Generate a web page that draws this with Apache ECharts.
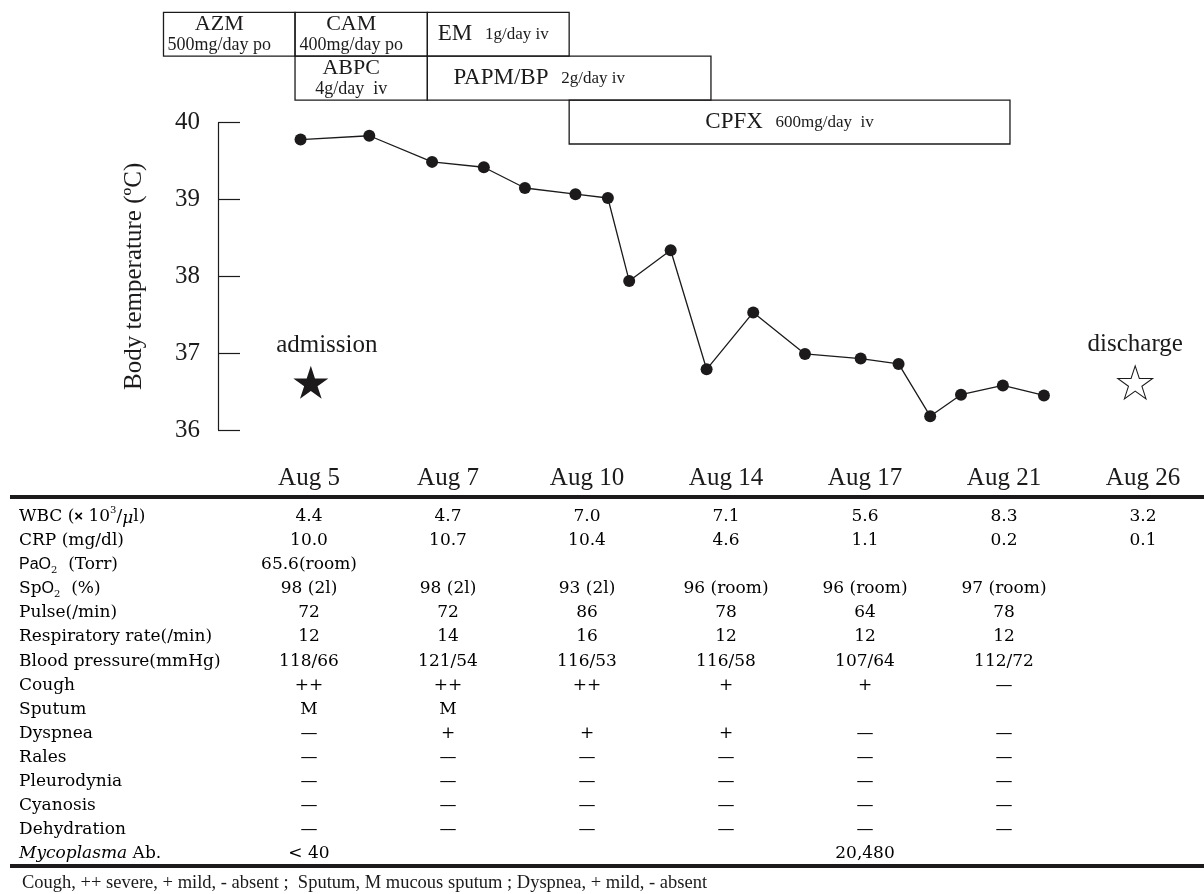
<!DOCTYPE html>
<html>
<head>
<meta charset="utf-8">
<script src="https://cdn.jsdelivr.net/npm/echarts@6/dist/echarts.min.js"></script>
<style>
html,body{margin:0;padding:0;background:#fff;}
#chart{width:1204px;height:894px;}
</style>
</head>
<body>
<div id="chart"></div>
<script>
// ---------- DATA ----------
// body temperature measurements (x = day of August, y = °C)
const tempDay = [4.79, 6.53, 8.12, 9.43, 10.47, 11.75, 12.57, 13.11, 14.16, 15.07, 16.25, 17.56, 18.97, 19.93, 20.73, 21.51, 22.57, 23.61];
const tempValue = [39.78, 39.83, 39.49, 39.42, 39.15, 39.07, 39.02, 37.94, 38.34, 36.79, 37.53, 36.99, 36.93, 36.86, 36.18, 36.46, 36.58, 36.45];
const admission = [5.05, 36.62];
const discharge = [25.92, 36.62];
const yTicks = [36, 37, 38, 39, 40];

// treatments (start/end day of August, row)
const drugNames = ['AZM', 'CAM', 'EM', 'ABPC', 'PAPM/BP', 'CPFX'];
const drugDoses = ['500mg/day po', '400mg/day po', '1g/day iv', '4g/day  iv', '2g/day iv', '600mg/day  iv'];
const drugStart = [1.32, 4.65, 8.0, 4.65, 8.0, 11.59];
const drugEnd = [4.65, 8.0, 11.59, 8.0, 15.18, 22.75];
const drugRow = [0, 0, 0, 1, 1, 2];

// table
const dates = ['Aug 5', 'Aug 7', 'Aug 10', 'Aug 14', 'Aug 17', 'Aug 21', 'Aug 26'];
const rowLabels = ['WBC (×10³/μl)', 'CRP (mg/dl)', 'PaO2 (Torr)', 'SpO2 (%)', 'Pulse(/min)', 'Respiratory rate(/min)', 'Blood pressure(mmHg)', 'Cough', 'Sputum', 'Dyspnea', 'Rales', 'Pleurodynia', 'Cyanosis', 'Dehydration', 'Mycoplasma Ab.'];
const wbc = ['4.4', '4.7', '7.0', '7.1', '5.6', '8.3', '3.2'];
const crp = ['10.0', '10.7', '10.4', '4.6', '1.1', '0.2', '0.1'];
const pao2 = ['65.6(room)', '', '', '', '', '', ''];
const spo2 = ['98 (2l)', '98 (2l)', '93 (2l)', '96 (room)', '96 (room)', '97 (room)', ''];
const pulse = ['72', '72', '86', '78', '64', '78', ''];
const resp = ['12', '14', '16', '12', '12', '12', ''];
const bp = ['118/66', '121/54', '116/53', '116/58', '107/64', '112/72', ''];
const cough = ['++', '++', '++', '+', '+', '—', ''];
const sputum = ['M', 'M', '', '', '', '', ''];
const dyspnea = ['—', '+', '+', '+', '—', '—', ''];
const rales = ['—', '—', '—', '—', '—', '—', ''];
const pleurodynia = ['—', '—', '—', '—', '—', '—', ''];
const cyanosis = ['—', '—', '—', '—', '—', '—', ''];
const dehydration = ['—', '—', '—', '—', '—', '—', ''];
const mycoplasma = ['< 40', '', '', '', '20,480', '', ''];
const footnote = 'Cough, ++ severe, + mild, - absent ;  Sputum, M mucous sputum ; Dyspnea, + mild, - absent';

// ---------- BUILD ----------
const INK = '#1c1a1b';
const SERIF = 'Liberation Serif';
const TSERIF = 'DejaVu Serif';
const STAR = 'path://M50,0L61.23,34.55L97.55,34.55L68.16,55.9L79.39,90.45L50,69.1L20.61,90.45L31.84,55.9L2.45,34.55L38.77,34.55Z';
const tableRows = [wbc, crp, pao2, spo2, pulse, resp, bp, cough, sputum, dyspnea, rales, pleurodynia, cyanosis, dehydration, mycoplasma];
const tableData = [];
tableRows.forEach(function (row, r) {
  row.forEach(function (v, c) { if (v !== '') tableData.push({ value: [c, r], txt: v }); });
});
const richLabels = [
  '{a|WBC (}{x|×}{a| 10}{sup|3}{a|/}{mu|μ}{a|l)}',
  '{a|CRP (mg/dl)}',
  '{s|PaO}{sub|2}{a|  (Torr)}',
  '{a|Sp}{s|O}{sub|2}{a|  (%)}',
  '{a|Pulse(/min)}',
  '{a|Respiratory rate(/min)}',
  '{a|Blood pressure(mmHg)}',
  '{a|Cough}', '{a|Sputum}', '{a|Dyspnea}', '{a|Rales}', '{a|Pleurodynia}',
  '{a|Cyanosis}', '{a|Dehydration}',
  '{it|Mycoplasma}{a| Ab.}'
];
const drugData = drugNames.map(function (n, i) {
  return [drugStart[i], drugEnd[i], drugRow[i], n, drugDoses[i]];
});

const chart = echarts.init(document.getElementById('chart'), null, { renderer: 'canvas' });
const option = {
  animation: false,
  backgroundColor: '#fff',
  textStyle: { fontFamily: SERIF, color: INK },
  grid: [
    { left: 218, right: 26.15, top: 122.7, bottom: 464 },
    { left: 111.35, right: 26.15, top: 12.3, bottom: 750 },
    { left: 309, right: 61, top: 504.5, bottom: 28 }
  ],
  xAxis: [
    { gridIndex: 0, type: 'value', min: 2.7, max: 27, show: false },
    { gridIndex: 1, type: 'value', min: 0, max: 27, show: false },
    {
      gridIndex: 2, type: 'value', min: 0, max: 6, interval: 1, position: 'top',
      axisLine: { show: false }, axisTick: { show: false }, splitLine: { show: false },
      axisLabel: {
        margin: 14, fontFamily: SERIF, fontSize: 25, color: INK,
        formatter: function (v) { return dates[v] || ''; }
      }
    }
  ],
  yAxis: [
    {
      gridIndex: 0, type: 'value', min: yTicks[0], max: yTicks[yTicks.length - 1], interval: 1,
      name: 'Body temperature (ºC)', nameLocation: 'middle', nameGap: 71,
      nameTextStyle: { fontFamily: SERIF, fontSize: 25, color: INK },
      axisLine: { show: true, lineStyle: { color: INK, width: 1.2 } },
      axisTick: { show: true, inside: true, length: 22, lineStyle: { color: INK, width: 1.2 } },
      axisLabel: { margin: 18, fontFamily: SERIF, fontSize: 25, color: INK },
      splitLine: { show: false }
    },
    { gridIndex: 1, type: 'category', data: ['r0', 'r1', 'r2'], inverse: true, show: false },
    {
      gridIndex: 2, type: 'category', data: rowLabels, inverse: true,
      axisLine: { show: false }, axisTick: { show: false },
      axisLabel: {
        align: 'left', margin: 290, interval: 0,
        formatter: function (v, i) { return richLabels[i]; },
        rich: {
          a: { fontFamily: TSERIF, fontSize: 17, color: '#000', lineHeight: 22 },
          x: { fontFamily: 'Liberation Sans', fontSize: 15, fontWeight: 'bold', color: '#000', lineHeight: 22 },
          sup: { fontFamily: TSERIF, fontSize: 10, color: '#000', lineHeight: 12, verticalAlign: 'top' },
          mu: { fontFamily: TSERIF, fontSize: 17, fontStyle: 'italic', color: '#000', lineHeight: 18, verticalAlign: 'bottom' },
          s: { fontFamily: 'Liberation Sans', fontSize: 16, color: '#000', lineHeight: 22 },
          sub: { fontFamily: TSERIF, fontSize: 10, color: '#000', lineHeight: 10, verticalAlign: 'bottom' },
          it: { fontFamily: TSERIF, fontSize: 17, fontStyle: 'italic', color: '#000', lineHeight: 22 }
        }
      }
    }
  ],
  series: [
    {
      type: 'line', xAxisIndex: 0, yAxisIndex: 0,
      data: tempDay.map(function (d, i) { return [d, tempValue[i]]; }),
      symbol: 'circle', symbolSize: 12, showSymbol: true,
      lineStyle: { color: INK, width: 1.3 }, itemStyle: { color: INK, opacity: 1 }
    },
    {
      type: 'scatter', xAxisIndex: 0, yAxisIndex: 0, data: [admission],
      symbol: STAR, symbolSize: [35, 33], itemStyle: { color: INK, opacity: 1 },
      label: { show: true, position: 'top', distance: 8, offset: [16, 0], formatter: 'admission', fontFamily: SERIF, fontSize: 25, color: INK }
    },
    {
      type: 'scatter', xAxisIndex: 0, yAxisIndex: 0, data: [discharge],
      symbol: STAR, symbolSize: [35, 33], itemStyle: { color: '#fff', borderColor: INK, borderWidth: 1, opacity: 1 },
      label: { show: true, position: 'top', distance: 8, formatter: 'discharge', fontFamily: SERIF, fontSize: 25, color: INK }
    },
    {
      type: 'custom', xAxisIndex: 1, yAxisIndex: 1, data: drugData, clip: false,
      renderItem: function (params, api) {
        const s = api.coord([api.value(0), api.value(2)]);
        const e = api.coord([api.value(1), api.value(2)]);
        const h = api.size([0, 1])[1];
        const w = e[0] - s[0];
        const name = drugData[params.dataIndex][3];
        const dose = drugData[params.dataIndex][4];
        const children = [{
          type: 'rect',
          shape: { x: s[0], y: s[1] - h / 2, width: w, height: h },
          style: { fill: 'none', stroke: INK, lineWidth: 1.3 }
        }];
        if (w < 137) {
          const cx = s[0] + w / 2 - 10;
          children.push({ type: 'text', style: { x: cx, y: s[1] - 10, text: name, font: '22px "Liberation Serif"', fill: INK, align: 'center', verticalAlign: 'middle' } });
          children.push({ type: 'text', style: { x: cx, y: s[1] + 11, text: dose, font: '18px "Liberation Serif"', fill: INK, align: 'center', verticalAlign: 'middle' } });
        } else {
          const cx = s[0] + w / 2 - (w > 400 ? 0 : (w > 200 ? 30 : 5));
          children.push({
            type: 'text', style: {
              x: cx, y: s[1], text: '{n|' + name + '}{d|   ' + dose + '}', align: 'center', verticalAlign: 'middle',
              rich: { n: { fontFamily: SERIF, fontSize: 23, fill: INK, color: INK }, d: { fontFamily: SERIF, fontSize: 17, fill: INK, color: INK } }
            }
          });
        }
        return { type: 'group', children: children };
      }
    },
    {
      type: 'scatter', xAxisIndex: 2, yAxisIndex: 2, data: tableData,
      symbolSize: 0, itemStyle: { color: '#000', opacity: 1 },
      label: {
        show: true, position: 'inside', fontFamily: TSERIF, fontSize: 17, color: '#000',
        formatter: function (p) { return p.data.txt; }
      }
    }
  ],
  graphic: [
    { type: 'line', shape: { x1: 10, y1: 497, x2: 1204, y2: 497 }, style: { stroke: INK, lineWidth: 4 } },
    { type: 'line', shape: { x1: 10, y1: 866, x2: 1204, y2: 866 }, style: { stroke: INK, lineWidth: 4 } },
    { type: 'text', left: 22, top: 874, style: { text: footnote, font: '18.5px "Liberation Serif"', fill: INK } }
  ]
};
chart.setOption(option);
</script>
</body>
</html>
